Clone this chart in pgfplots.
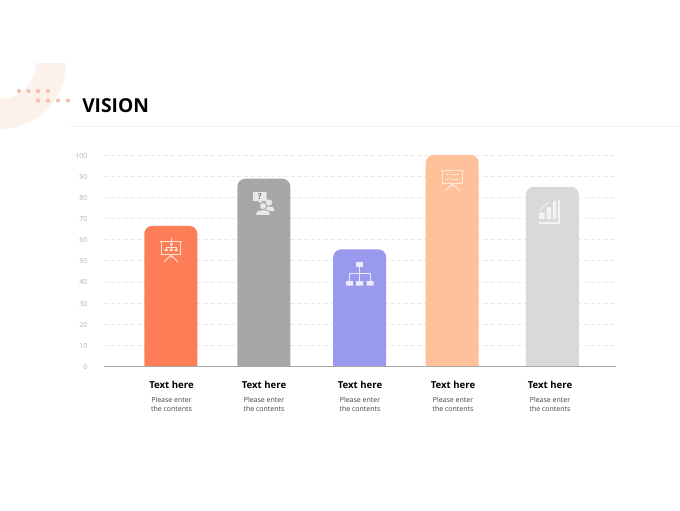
\documentclass[border=0pt]{standalone}
\usepackage{pgfplots}
\pgfplotsset{compat=1.18}
\usepackage{fontspec}
\setmainfont{Open Sans}
\definecolor{cA}{HTML}{FD7D57}
\definecolor{cB}{HTML}{A6A6A6}
\definecolor{cC}{HTML}{9999EE}
\definecolor{cD}{HTML}{FFC09A}
\definecolor{cE}{HTML}{D9D9D9}
\definecolor{ring}{HTML}{FDF1EB}
\definecolor{dot}{HTML}{F3BFAE}
\definecolor{sub}{HTML}{444444}
\newcommand{\catlab}{{\fontsize{7.2pt}{9pt}\selectfont\bfseries Text here}\\[3.6pt]\textcolor{sub}{Please enter}\\\textcolor{sub}{the contents}}
\begin{document}
\begin{tikzpicture}
\path[use as bounding box, fill=white] (0,0) rectangle (510pt,-382.5pt);
\begin{scope}[x=0.75pt,y=-0.75pt]
  \begin{scope}
    \clip (0,63) rectangle (70,135);
    \fill[ring, even odd rule] (0,63) circle[radius=66] (0,63) circle[radius=36];
  \end{scope}
  \foreach \p in {19,28.5,38,48} \fill[dot] (\p,91) circle[radius=2.1];
  \foreach \p in {38,48,58,68} \fill[dot] (\p,100.5) circle[radius=2.1];
  \draw[color=ring, line width=0.75pt] (70,126.5) -- (680,126.5);
  \node[anchor=base west, inner sep=0pt, font=\fontsize{14.4pt}{18pt}\selectfont\bfseries, text=black] at (82,112) {VISION};
\end{scope}
\begin{axis}[
  at={(78pt,-274.875pt)}, anchor=south west,
  scale only axis, width=384pt, height=158.6pt,
  xmin=104, xmax=616, ymin=0, ymax=100,
  clip=false,
  axis line style={draw=none},
  tick pos=left,
  major tick length=0pt,
  ytick={0,10,...,100},
  ymajorgrids, grid style={color=black!9, dash pattern=on 3pt off 2pt, line width=0.6pt},
  yticklabel style={font=\fontsize{5.2pt}{6pt}\selectfont, text=black!30, xshift=-9pt, yshift=-0.4pt},
  /pgf/number format/assume math mode=true,
  xtick={171.5,264,360,453,550},
  xticklabels={\catlab,\catlab,\catlab,\catlab,\catlab},
  xticklabel style={align=center, yshift=-7.75pt, font=\fontsize{5.25pt}{6.75pt}\selectfont},
]
\addplot[fill=cA, draw=none, rounded corners=6pt] coordinates {(144.3,0) (144.3,66.5) (197.3,66.5) (197.3,0)};
\addplot[fill=cB, draw=none, rounded corners=6pt] coordinates {(237.3,0) (237.3,88.8) (290.3,88.8) (290.3,0)};
\addplot[fill=cC, draw=none, rounded corners=6pt] coordinates {(333.2,0) (333.2,55.4) (386.2,55.4) (386.2,0)};
\addplot[fill=cD, draw=none, rounded corners=6pt] coordinates {(425.7,0) (425.7,100) (478.7,100) (478.7,0)};
\addplot[fill=cE, draw=none, rounded corners=6pt] coordinates {(525.8,0) (525.8,85) (578.8,85) (578.8,0)};
\addplot[draw=cB, line width=1.1pt] coordinates {(104,0) (616,0)};
\end{axis}
\begin{scope}[x=0.75pt,y=-0.75pt]
  \begin{scope}[draw={rgb,255:red,253;green,226;blue,216}, fill={rgb,255:red,253;green,226;blue,216}, line width=0.75pt]
    \draw (160,241) -- (182,241);
    \draw (161.5,241) rectangle (180.5,254);
    \draw (171,238) -- (171,241);
    \draw (171,254) -- (171,258) (171,255) -- (164,262) (171,255) -- (178,262);
    \fill (169.5,243) rectangle (172.5,245.2);
    \fill (164.5,249) rectangle (167.5,251.2) (169.5,249) rectangle (172.5,251.2) (174.5,249) rectangle (177.5,251.2);
    \draw[line width=.45pt] (171,245) -- (171,249) (166,249) -- (166,247) -- (176,247) -- (176,249);
  \end{scope}
  \begin{scope}[fill={rgb,255:red,232;green,232;blue,232}]
    \fill (253,192) rectangle (266.5,201) (258,201) -- (262,201) -- (261.5,204) -- cycle;
    \node[text=cB!70!black, font=\fontsize{6pt}{6pt}\selectfont\bfseries, inner sep=0pt] at (259.7,196.3) {?};
    \fill (269,202.5) circle[radius=3.2];
    \fill (263.5,211) .. controls (263.5,207) and (266,206.5) .. (269,206.5) .. controls (272,206.5) and (274.5,207) .. (274.5,211) -- cycle;
    \filldraw[draw=cB, line width=.6pt] (263,206) circle[radius=3.6];
    \filldraw[draw=cB, line width=.6pt] (256,215.5) -- (256,213.5) .. controls (256,210.5) and (259,210) .. (263,210) .. controls (267,210) and (270,210.5) .. (270,213.5) -- (270,215.5) -- cycle;
  \end{scope}
  \begin{scope}[draw={rgb,255:red,235;green,235;blue,251}, fill={rgb,255:red,235;green,235;blue,251}, line width=0.6pt]
    \fill (356,262) rectangle (363,266.5);
    \fill (346,281) rectangle (353,285.5) (356,281) rectangle (363,285.5) (366.5,281) rectangle (373.5,285.5);
    \draw (359.5,266.5) -- (359.5,281) (349.5,281) -- (349.5,273.5) -- (370,273.5) -- (370,281);
  \end{scope}
  \begin{scope}[draw={rgb,255:red,255;green,231;blue,216}, line width=0.75pt]
    \draw (441,170) -- (464,170);
    \draw (442.5,170) rectangle (462.5,183);
    \draw (452.5,183) -- (452.5,187) (452.5,184) -- (445,191) (452.5,184) -- (460,191);
    \draw[line width=.55pt] (446,174) -- (447,175) -- (449,173) (446,179) -- (447,180) -- (449,178);
    \draw[line width=.55pt] (451,174) -- (459,174) (451,179) -- (459,179);
  \end{scope}
  \begin{scope}[draw={rgb,255:red,243;green,243;blue,243}, fill={rgb,255:red,243;green,243;blue,243}]
    \fill (539,212.5) rectangle (544.5,219) (546.5,207) rectangle (551,219) (553,201) rectangle (556,219);
    \fill (557.5,200) rectangle (560,223.5);
    \fill (539,221.5) rectangle (560,223.5);
    \draw[line width=.55pt] (539,211) -- (549,202);
  \end{scope}
\end{scope}
\end{tikzpicture}
\end{document}
